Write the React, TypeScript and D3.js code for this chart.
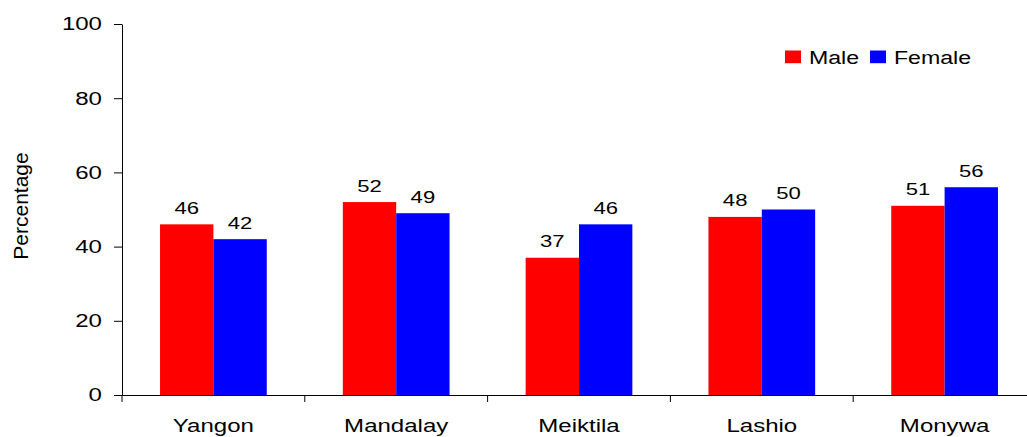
import React, { useEffect, useRef } from 'react';
import { axisBottom, axisLeft, scaleBand, scaleLinear, select } from 'd3';

const cities = ['Yangon', 'Mandalay', 'Meiktila', 'Lashio', 'Monywa'];
const male = [46, 52, 37, 48, 51];
const female = [42, 49, 46, 50, 56];
const yTicks = [0, 20, 40, 60, 80, 100];
const seriesNames = ['Male', 'Female'];
const colors = ['#ff0000', '#0000ff'];

const W = 1027;
const H = 437;
// the original picture is drawn a bit wider than tall, so text is stretched sideways
const SX = 1.3;

const App = () => {
  const svgRef = useRef<SVGSVGElement>(null);

  useEffect(() => {
    const svg = select(svgRef.current);
    svg.selectAll('*').remove();

    const xScale = scaleBand().domain(cities).range([122, 1036]).padding(0);
    const yScale = scaleLinear().domain([0, 100]).range([395, 24]);
    const inner = scaleBand()
      .domain(seriesNames)
      .range([0, xScale.bandwidth()])
      .paddingInner(0)
      .paddingOuter(0.713);

    const font = 'Liberation Sans, Arial, sans-serif';

    // bars
    const values = [male, female];
    seriesNames.forEach((s, si) => {
      const g = svg.append('g');
      g.selectAll('rect')
        .data(values[si])
        .join('rect')
        .attr('x', (_, i) => (xScale(cities[i]) as number) + (inner(s) as number))
        .attr('y', (d) => yScale(d))
        .attr('width', inner.bandwidth())
        .attr('height', (d) => yScale(0) - yScale(d))
        .attr('fill', colors[si]);
      g.selectAll('text')
        .data(values[si])
        .join('text')
        .attr('transform', (d, i) => {
          const cx = (xScale(cities[i]) as number) + (inner(s) as number) + inner.bandwidth() / 2;
          return `translate(${cx},${yScale(d) - 10.5}) scale(${SX},1)`;
        })
        .attr('text-anchor', 'middle')
        .attr('font-family', font)
        .attr('font-size', 17)
        .attr('fill', '#000')
        .text((d) => d);
    });

    // y axis
    const yAxis = axisLeft(yScale).tickValues(yTicks).tickSize(8).tickSizeOuter(0).tickPadding(12);
    const yg = svg.append('g').attr('transform', 'translate(122,0)').call(yAxis);
    yg.selectAll('text').each(function () {
      const t = select(this as SVGTextElement);
      const x = +t.attr('x');
      t.attr('x', 0).attr('transform', `translate(${x},0) scale(${SX},1)`);
    });
    yg.selectAll('text').attr('font-family', font).attr('font-size', 18.5).attr('fill', '#000');
    yg.selectAll('line').attr('stroke', '#000');
    yg.select('.domain').attr('stroke', '#000');

    // x axis
    const xAxis = axisBottom(xScale).tickSize(0).tickSizeOuter(0).tickPadding(23.5);
    const xg = svg.append('g').attr('transform', 'translate(0,395)').call(xAxis);
    xg.select('.domain').attr('stroke', '#000');
    xg.selectAll('text')
      .attr('transform', `scale(${SX},1)`)
      .attr('font-family', font)
      .attr('font-size', 18.5)
      .attr('fill', '#000');
    const bounds = [...cities.map((d) => xScale(d) as number), 1036];
    xg.selectAll('.cat-tick')
      .data(bounds)
      .join('line')
      .attr('class', 'cat-tick')
      .attr('x1', (d) => d)
      .attr('x2', (d) => d)
      .attr('y1', 0)
      .attr('y2', 7)
      .attr('stroke', '#000');

    // y title
    svg.append('text')
      .attr('transform', 'translate(28.3,206) rotate(-90)')
      .attr('text-anchor', 'middle')
      .attr('font-family', font)
      .attr('font-size', 21)
      .attr('fill', '#000')
      .text('Percentage');

    // legend
    const leg = svg.append('g').attr('transform', 'translate(785,50.5)');
    const legX = [0, 85];
    seriesNames.forEach((s, i) => {
      leg.append('rect').attr('x', legX[i]).attr('y', 0).attr('width', 16).attr('height', 12.7).attr('fill', colors[i]);
      leg.append('text')
        .attr('transform', `translate(${legX[i] + 24},13) scale(${SX},1)`)
        .attr('font-family', font)
        .attr('font-size', 17.8)
        .attr('fill', '#000')
        .text(s);
    });
  }, []);

  return (
    <svg
      ref={svgRef}
      width={W}
      height={H}
      style={{ position: 'absolute', left: 0, top: 0, background: '#fff' }}
    />
  );
};

export default App;
